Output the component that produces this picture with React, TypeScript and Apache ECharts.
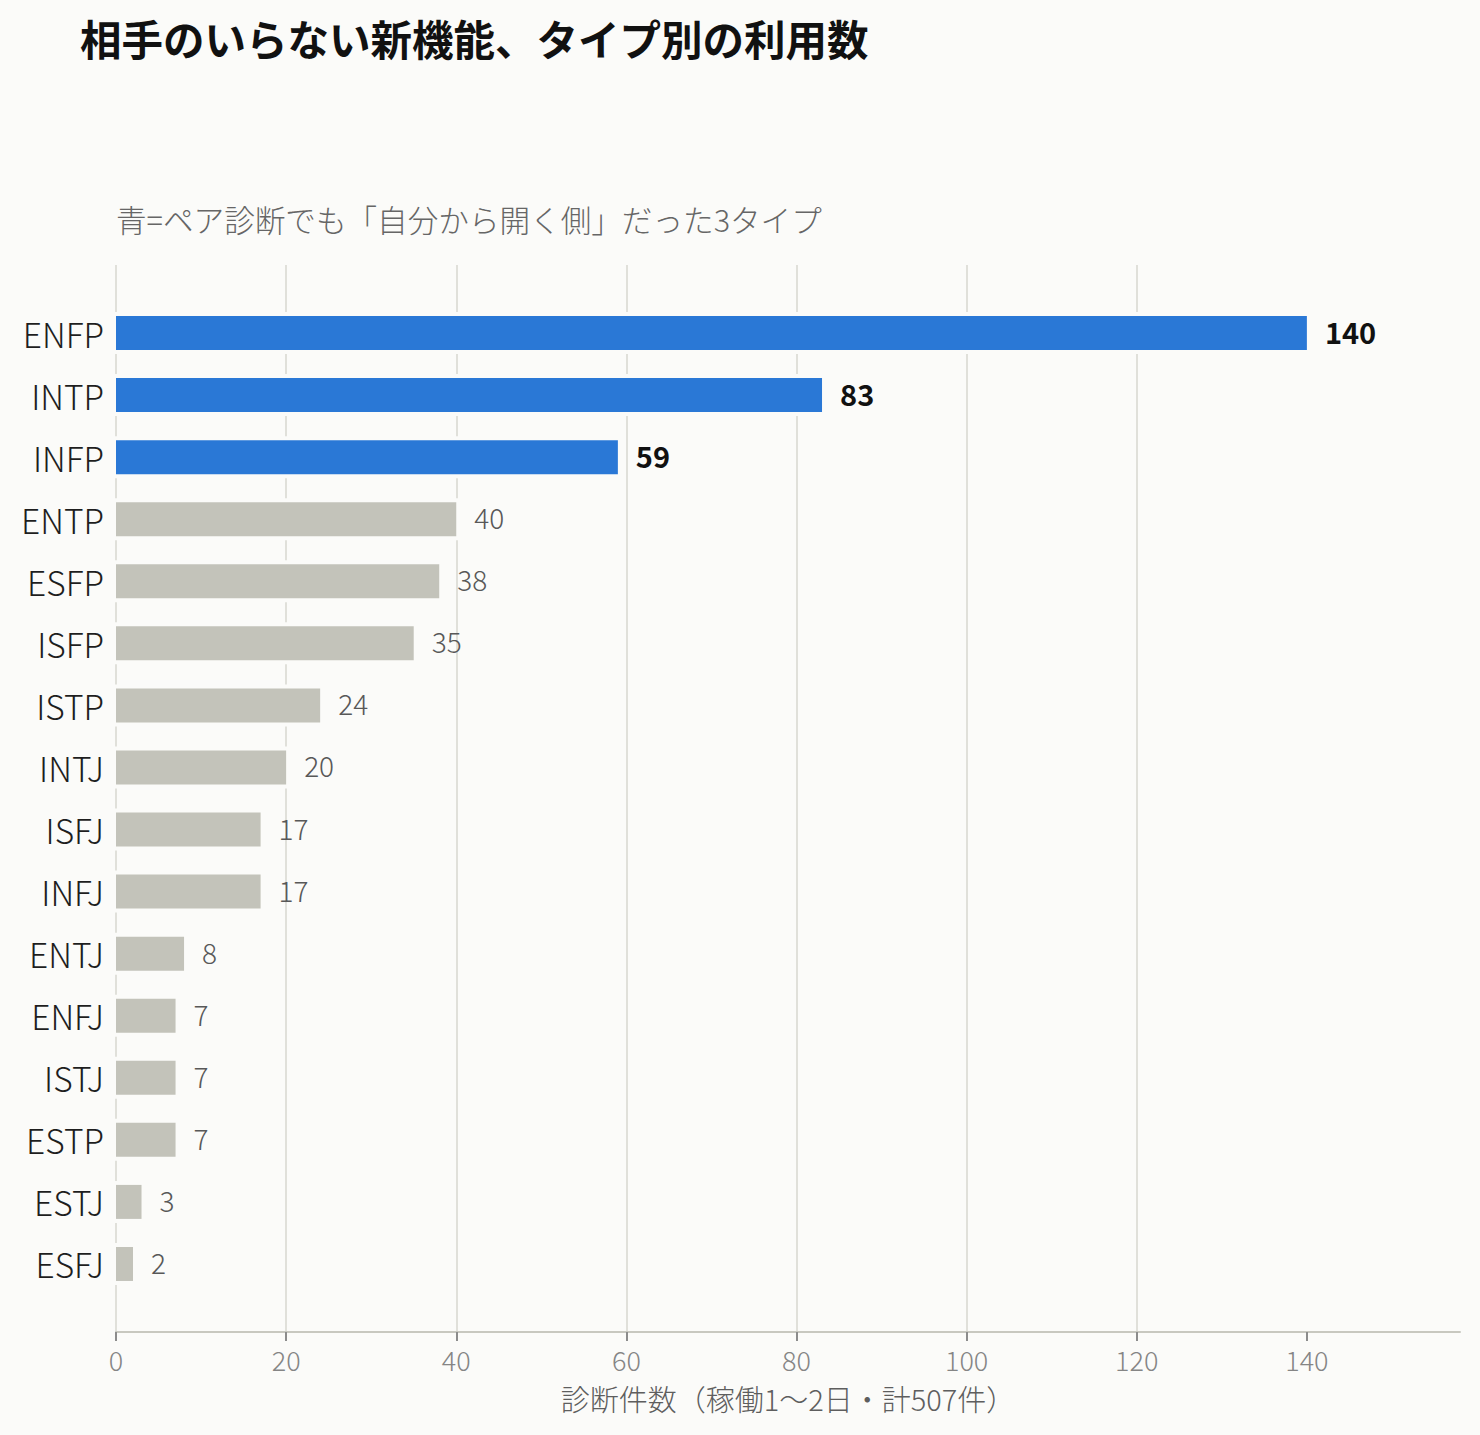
import React, { useEffect, useRef } from "react";
import * as echarts from "echarts";

// MBTI type usage counts for the new solo feature
const types = [
  "ENFP", "INTP", "INFP", "ENTP", "ESFP", "ISFP", "ISTP", "INTJ",
  "ISFJ", "INFJ", "ENTJ", "ENFJ", "ISTJ", "ESTP", "ESTJ", "ESFJ",
];
const counts = [140, 83, 59, 40, 38, 35, 24, 20, 17, 17, 8, 7, 7, 7, 3, 2];
// types that also tended to be the initiating side in pair diagnosis
const highlighted = ["ENFP", "INTP", "INFP"];
const xTicks = [0, 20, 40, 60, 80, 100, 120, 140];

const titleText = "相手のいらない新機能、タイプ別の利用数";
const subtitleText = "青=ペア診断でも「自分から開く側」だった3タイプ";
const xAxisName = "診断件数（稼働1〜2日・計507件）";

const BG = "#fbfbf9";
const BLUE = "#2a78d6";
const GREY_BAR = "#c3c3ba";
const FONT = "'Noto Sans CJK JP', 'Noto Sans', sans-serif";
const X_MAX = 158;
const BAR_W = 34;
const HALO = 4;

export default function App() {
  const ref = useRef<HTMLDivElement>(null);

  useEffect(() => {
    if (!ref.current) return;
    document.body.style.margin = "0";
    document.body.style.background = BG;
    const chart = echarts.init(ref.current, undefined, { renderer: "svg" });

    const barData = counts.map((v, i) => {
      const hi = highlighted.includes(types[i]);
      return {
        value: v,
        itemStyle: { color: hi ? BLUE : GREY_BAR },
        label: hi
          ? { color: "#111111", fontWeight: "bold", fontSize: 29 }
          : { color: "#585858", fontWeight: 300, fontSize: 28 },
      };
    });

    chart.setOption({
      animation: false,
      backgroundColor: BG,
      textStyle: { fontFamily: FONT },
      title: {
        text: titleText,
        left: 80,
        top: 17,
        padding: 0,
        textStyle: { fontFamily: FONT, fontSize: 41.5, fontWeight: "bold", color: "#111111" },
      },
      graphic: [
        {
          type: "text",
          left: 116,
          top: 204,
          style: { text: subtitleText, fontFamily: FONT, fontSize: 30.6, fontWeight: 300, fill: "#666666" },
        },
      ],
      grid: [
        { left: 116, right: 20, top: 265, bottom: 103 },
        { left: 116, right: 20, top: 302, bottom: 140 },
      ],
      xAxis: [
        {
          gridIndex: 0,
          type: "value",
          min: 0,
          max: X_MAX,
          interval: 20,
          name: xAxisName,
          nameLocation: "middle",
          nameGap: 51,
          nameTextStyle: { fontFamily: FONT, fontSize: 29, fontWeight: 300, color: "#5e5e5e" },
          axisLine: { show: true, lineStyle: { color: "#c8c8c0", width: 2 } },
          axisTick: {
            show: true,
            customValues: xTicks,
            length: 9,
            lineStyle: { color: "#8c8c8c", width: 2 },
          },
          axisLabel: {
            customValues: xTicks,
            fontFamily: FONT,
            fontSize: 27,
            fontWeight: 300,
            color: "#858585",
            margin: 14,
          },
          splitLine: {
            show: true,
            showMaxLine: false,
            lineStyle: { color: "#e0e0da", width: 2 },
          },
        },
        {
          gridIndex: 1,
          type: "value",
          min: 0,
          max: X_MAX,
          show: false,
          splitLine: { show: false },
        },
      ],
      yAxis: [
        { gridIndex: 0, type: "value", show: false, splitLine: { show: false } },
        {
          gridIndex: 1,
          type: "category",
          data: types,
          inverse: true,
          axisLine: { show: false },
          axisTick: { show: false },
          splitLine: { show: false },
          axisLabel: { fontFamily: FONT, fontSize: 33.5, fontWeight: 300, color: "#1e1e1e", margin: 12 },
        },
      ],
      series: [
        {
          // background-coloured halo that breaks the grid lines around each bar
          type: "custom",
          xAxisIndex: 1,
          yAxisIndex: 1,
          silent: true,
          data: counts.map((v, i) => [v, types[i]]),
          encode: { x: 0, y: 1 },
          renderItem: (params: any, api: any) => {
            const start = api.coord([0, api.value(1)]);
            const end = api.coord([api.value(0), api.value(1)]);
            return {
              type: "rect",
              shape: {
                x: start[0] - HALO,
                y: start[1] - BAR_W / 2 - HALO,
                width: end[0] - start[0] + HALO * 2,
                height: BAR_W + HALO * 2,
              },
              style: { fill: BG },
            };
          },
        },
        {
          type: "bar",
          xAxisIndex: 1,
          yAxisIndex: 1,
          data: barData,
          barWidth: BAR_W,
          label: {
            show: true,
            position: "right",
            distance: 18,
            offset: [0, -2],
            fontFamily: FONT,
          },
        },
      ],
    });

    return () => chart.dispose();
  }, []);

  return (
    <div
      ref={ref}
      style={{ position: "fixed", left: 0, top: 0, width: 1480, height: 1435 }}
    />
  );
}
